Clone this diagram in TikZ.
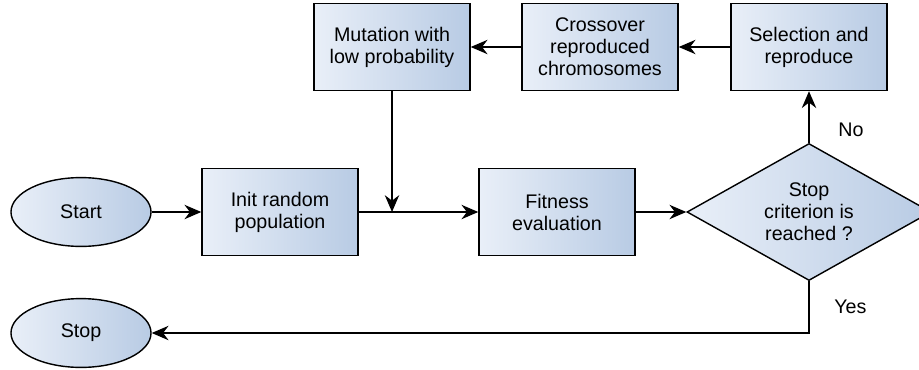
\documentclass[tikz,border=0pt]{standalone}
\usepackage{fontspec}
\setmainfont{Liberation Sans}
\usepackage{tikz}
\usetikzlibrary{shapes.geometric, arrows.meta, positioning}
\definecolor{boxlight}{HTML}{E9EFF8}
\definecolor{boxdark}{HTML}{B8CBE4}

\begin{document}
\begin{tikzpicture}[
    x=0.025cm, y=-0.025cm,
    font=\fontsize{14}{15.6}\selectfont,
    process/.style={draw, rectangle, line width=1pt, minimum width=3.9cm, minimum height=2.175cm, align=center, left color=boxlight, right color=boxdark},
    terminal/.style={draw, ellipse, line width=1pt, minimum width=3.5cm, minimum height=1.72cm, left color=boxlight, right color=boxdark},
    decision/.style={draw, diamond, line width=1pt, aspect=1.8, inner sep=0pt, minimum width=6.1cm, minimum height=3.425cm, align=center, left color=boxlight, right color=boxdark},
    arrow/.style={line width=1pt, -{Stealth[length=0.42cm, width=0.36cm]}}
]
\useasboundingbox (0,0) rectangle (919,369);

% Main row
\node[terminal] (start) at (81,212) {Start};
\node[process] (init) at (280,212) {Init random\\population};
\node[process] (fitness) at (557,212) {Fitness\\evaluation};
\node[decision] (stopq) at (809,212) {Stop\\criterion is\\reached ?};

% Top row: genetic operators
\node[process] (select) at (809,47) {Selection and\\reproduce};
\node[process] (cross) at (600,47) {Crossover\\reproduced\\chromosomes};
\node[process] (mutate) at (392,47) {Mutation with\\low probability};

% End
\node[terminal] (stop) at (81,333) {Stop};
\coordinate (join) at (mutate |- init);

% Connections
\draw[arrow] (start) -- (init);
\draw[arrow] (init) -- (fitness);
\draw[arrow] (mutate) -- (join);
\draw[arrow] (fitness) -- (stopq);
\draw[arrow] (stopq) -- node[pos=0.25, right=0.6cm] {No} (select);
\draw[arrow] (select) -- (cross);
\draw[arrow] (cross) -- (mutate);
\draw[arrow] (stopq.south) |- node[pos=0.25, right=0.5cm] {Yes} (stop);

\end{tikzpicture}
\end{document}
